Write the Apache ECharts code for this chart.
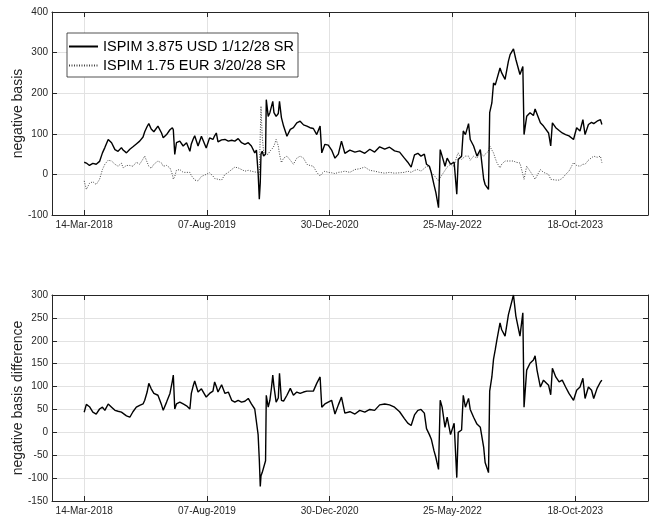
<!DOCTYPE html>
<html>
<head>
<meta charset="utf-8">
<script src="https://cdn.jsdelivr.net/npm/echarts@6/dist/echarts.min.js"></script>
<style>
html,body{margin:0;padding:0;background:#fff;}
#chart{width:649px;height:518px;}
</style>
</head>
<body>
<div id="chart"></div>
<script>
const dates = [
'2018-03-14','2018-03-23','2018-04-05','2018-04-19','2018-05-03','2018-05-17','2018-05-29','2018-06-08','2018-06-22','2018-07-06',
'2018-07-20','2018-08-02','2018-08-16','2018-08-23','2018-09-06','2018-09-20','2018-10-03','2018-10-17','2018-10-31','2018-11-14',
'2018-11-21','2018-12-01','2018-12-08','2018-12-18','2018-12-29','2019-01-15','2019-01-30','2019-02-06','2019-02-20','2019-03-06',
'2019-03-16','2019-03-20','2019-03-26','2019-04-02','2019-04-16','2019-04-30','2019-05-14','2019-05-28','2019-06-03','2019-06-10',
'2019-06-17','2019-07-01','2019-07-15','2019-07-22','2019-08-04','2019-08-18','2019-09-01','2019-09-08','2019-09-15','2019-09-22',
'2019-10-07','2019-10-21','2019-11-04','2019-11-18','2019-12-01','2019-12-15','2019-12-29','2020-01-12','2020-01-26','2020-02-08',
'2020-02-22','2020-02-29','2020-03-07','2020-03-12','2020-03-16','2020-03-19','2020-03-24','2020-03-30','2020-04-07','2020-04-10',
'2020-04-18','2020-04-25','2020-05-02','2020-05-07','2020-05-12','2020-05-21','2020-05-30','2020-06-04','2020-06-12','2020-06-21',
'2020-07-05','2020-07-19','2020-08-01','2020-08-15','2020-08-29','2020-09-12','2020-09-26','2020-10-09','2020-10-23','2020-11-06',
'2020-11-20','2020-11-25','2020-11-27','2020-12-10','2020-12-24','2021-01-07','2021-01-21','2021-02-04','2021-02-17','2021-03-03',
'2021-03-24','2021-04-14','2021-05-04','2021-05-25','2021-06-15','2021-07-05','2021-07-26','2021-08-16','2021-09-05','2021-09-26',
'2021-10-17','2021-11-06','2021-11-20','2021-12-04','2021-12-18','2022-01-01','2022-01-14','2022-01-28','2022-02-06','2022-02-18',
'2022-02-26','2022-03-09','2022-03-17','2022-03-28','2022-04-04','2022-04-12','2022-04-24','2022-05-03','2022-05-17','2022-06-01',
'2022-06-12','2022-06-18','2022-07-02','2022-07-09','2022-07-18','2022-07-31','2022-08-07','2022-08-21','2022-09-04','2022-09-18',
'2022-10-02','2022-10-08','2022-10-22','2022-10-27','2022-11-05','2022-11-12','2022-11-19','2022-11-26','2022-12-09','2022-12-16',
'2022-12-30','2023-01-13','2023-01-20','2023-02-03','2023-02-13','2023-03-02','2023-03-14','2023-03-19','2023-03-30','2023-04-13',
'2023-04-27','2023-05-04','2023-05-12','2023-05-26','2023-06-08','2023-06-29','2023-07-08','2023-07-15','2023-07-29','2023-08-12',
'2023-08-25','2023-09-08','2023-09-22','2023-10-11','2023-10-24','2023-11-07','2023-11-19','2023-11-28','2023-12-12','2023-12-25',
'2024-01-03','2024-01-17','2024-01-31','2024-02-06'
];
const usdBasis = [
30,28,22,27,25,32,53,66,86,78,
61,57,66,60,53,62,68,75,82,92,
105,118,125,112,105,119,102,90,98,110,
115,110,49,78,82,70,78,57,75,86,
95,70,94,98,65,90,86,95,102,80,
85,86,82,84,82,88,78,74,78,70,
53,60,4,-61,-20,50,57,45,50,184,
143,152,150,180,152,143,150,180,140,119,
94,111,115,127,131,122,119,115,113,98,
119,118,53,74,72,60,40,50,82,52,
60,55,58,52,62,55,68,62,67,58,
55,40,30,18,48,52,45,50,25,20,
4,-25,-45,-82,61,45,20,40,25,30,
-49,37,45,107,98,125,86,70,45,61,
-12,-25,-37,152,176,225,220,217,262,250,
234,279,295,309,283,246,266,98,143,152,
145,161,160,127,119,102,70,127,115,108,
102,98,95,86,115,107,135,98,123,128,
125,131,135,123
];
const eurBasis = [
-16,-37,-22,-18,-25,-12,12,25,35,33,
25,20,28,16,22,22,20,30,25,38,
45,30,20,15,25,33,28,20,22,16,
0,-12,-5,10,12,5,5,5,-3,-8,
-14,-16,-5,-2,0,4,-4,-10,-8,-12,
-14,0,5,12,18,16,12,8,10,8,
6,6,5,0,100,168,94,55,48,45,
50,57,60,65,70,86,70,50,29,40,
45,35,25,40,45,40,25,22,20,5,
-4,0,2,8,5,4,2,5,6,8,
5,12,14,18,10,8,5,3,5,3,
4,5,8,5,10,12,8,15,20,18,
5,-2,-8,-16,-8,-5,10,18,25,20,
45,53,37,40,45,45,35,45,40,53,
45,50,57,70,60,53,40,29,16,25,
33,33,30,33,30,28,0,-12,20,8,
-5,-12,-8,12,5,0,-12,-14,-14,-14,
-10,0,8,29,22,20,25,25,35,41,
45,42,45,29
];
const basisDiff = [
44,61,56,44,40,51,55,48,62,55,
48,46,44,40,36,33,45,55,59,62,
70,88,107,95,85,81,60,48,66,85,
112,125,51,62,66,62,58,51,85,100,
112,88,95,99,77,85,90,110,100,88,
104,85,88,70,66,70,66,68,74,62,
51,50,-5,-60,-118,-95,-88,-85,-62,81,
55,70,99,125,100,66,75,129,70,68,
81,96,81,88,85,88,90,90,90,107,
121,120,55,62,66,70,40,60,77,42,
45,40,48,44,50,48,60,62,60,55,
45,30,20,15,38,48,50,42,8,-5,
-15,-40,-55,-81,70,55,11,33,-5,20,
-99,0,5,81,55,74,50,33,18,11,
-33,-66,-88,90,121,160,180,202,239,224,
210,257,261,300,254,210,261,55,136,151,
158,167,136,99,114,103,82,140,121,110,
114,99,85,70,92,99,118,74,99,92,
74,96,110,114
];
const tickDates = ['2018-03-14','2019-08-07','2020-12-30','2022-05-25','2023-10-18'];
const seriesNames = ['ISPIM 3.875 USD 1/12/28 SR','ISPIM 1.75 EUR 3/20/28 SR'];
const xMin = '2017-10-31', xMax = '2024-08-16';

const MON = ['Jan','Feb','Mar','Apr','May','Jun','Jul','Aug','Sep','Oct','Nov','Dec'];
const DAY = 86400000;
const toDay = s => Math.round(Date.parse(s + 'T00:00:00Z') / DAY);
function fmtDay(v){
  const d = new Date(Math.round(v) * DAY);
  const dd = String(d.getUTCDate()).padStart(2,'0');
  return dd + '-' + MON[d.getUTCMonth()] + '-' + d.getUTCFullYear();
}
const FONT = '"Liberation Sans", Arial, Helvetica, sans-serif';
const AX = '#262626', GRID = '#e2e2e2';
const tickDays = tickDates.map(toDay);

function xAx(gi, pos, withLabels){
  return {
    type:'value', gridIndex:gi, position:pos, min:toDay(xMin), max:toDay(xMax),
    axisLine:{show:true, onZero:false, lineStyle:{color:AX, width:1}},
    axisTick:{show:true, inside:true, length:5, customValues:tickDays, lineStyle:{color:AX}},
    axisLabel:{show:withLabels, customValues:tickDays, formatter:fmtDay, fontSize:10, color:AX, margin:5, fontFamily:FONT},
    splitLine:{show:withLabels, lineStyle:{color:GRID, width:1}}
  };
}
function yAx(gi, pos, min, max, interval, name){
  const main = pos === 'left';
  return {
    type:'value', gridIndex:gi, position:pos, min:min, max:max, interval:interval,
    name: main ? name : '', nameLocation:'middle', nameGap:27, nameMoveOverlap:false,
    nameTextStyle:{fontSize:14, color:AX, fontFamily:FONT},
    axisLine:{show:true, onZero:false, lineStyle:{color:AX, width:1}},
    axisTick:{show:true, inside:true, length:5, lineStyle:{color:AX}},
    axisLabel:{show:main, fontSize:10, color:AX, margin:4, fontFamily:FONT},
    splitLine:{show:main, lineStyle:{color:GRID, width:1}}
  };
}
const zip = (a,b) => a.map((d,i) => [toDay(d), b[i]]);

const chart = echarts.init(document.getElementById('chart'), null, {renderer:'canvas'});
chart.setOption({
  animation:false,
  backgroundColor:'#fff',
  textStyle:{fontFamily:FONT},
  grid:[
    {left:52, top:12, width:596, height:203, outerBoundsMode:'none', containLabel:false},
    {left:52, top:295, width:596, height:206, outerBoundsMode:'none', containLabel:false}
  ],
  xAxis:[xAx(0,'bottom',true), xAx(0,'top',false), xAx(1,'bottom',true), xAx(1,'top',false)],
  yAxis:[
    yAx(0,'left',-100,400,100,'negative basis'), yAx(0,'right',-100,400,100,''),
    yAx(1,'left',-150,300,50,'negative basis difference'), yAx(1,'right',-150,300,50,'')
  ],
  legend:{
    data:seriesNames, orient:'vertical', left:67, top:33,
    backgroundColor:'#fff', borderColor:AX, borderWidth:0.8, borderRadius:0,
    padding:[6,4,4,1], itemWidth:29, itemHeight:16, itemGap:4,
    itemStyle:{opacity:0},
    textStyle:{fontSize:14.5, color:'#000', fontFamily:FONT}
  },
  series:[
    {name:seriesNames[0], type:'line', xAxisIndex:0, yAxisIndex:0, data:zip(dates, usdBasis),
     symbol:'none', color:'#000', lineStyle:{color:'#000', width:1.4}, z:3},
    {name:seriesNames[1], type:'line', xAxisIndex:0, yAxisIndex:0, data:zip(dates, eurBasis),
     symbol:'none', color:'#444', lineStyle:{color:'#444', width:1, type:[1,1.5]}, z:2},
    {name:'difference', type:'line', xAxisIndex:2, yAxisIndex:2, data:zip(dates, basisDiff),
     symbol:'none', color:'#000', lineStyle:{color:'#000', width:1.4}}
  ]
});
</script>
</body>
</html>
